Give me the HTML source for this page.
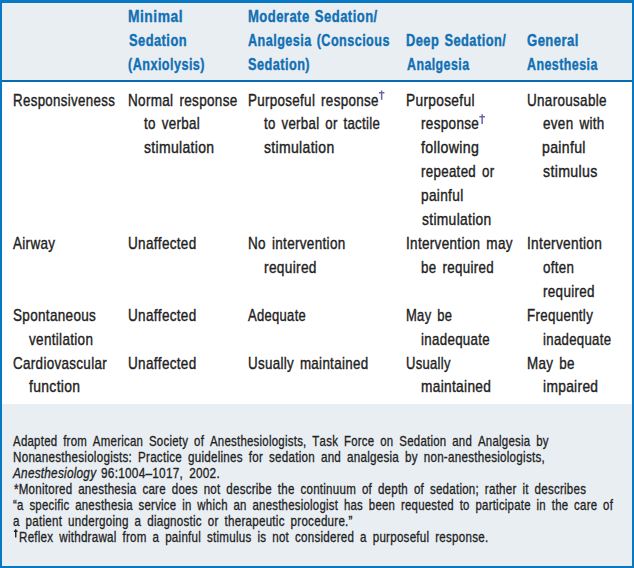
<!DOCTYPE html>
<html><head><meta charset="utf-8"><style>
html,body{margin:0;padding:0;background:#fff;}
body{width:634px;height:568px;position:relative;overflow:hidden;font-family:"Liberation Sans",sans-serif;font-kerning:none;}
.frame{position:absolute;left:0;top:0;width:630px;height:563px;border:2px solid #0678c4;border-top-width:3px;}
.hd{position:absolute;left:2px;top:3px;width:630px;height:77px;background:#e9eef3;}
.hl{position:absolute;left:2px;top:80px;width:630px;height:2px;background:#0a6cb0;}
.ft{position:absolute;left:2px;top:404px;width:630px;height:162px;background:#e9eef3;}
svg.dg{position:absolute;}
div.h,div.t,div.f{position:absolute;white-space:nowrap;transform-origin:0 0;line-height:24px;height:24px;}
.h{letter-spacing:0.6px;word-spacing:1.5px;font-weight:bold;font-size:17px;color:#1170b4;-webkit-text-stroke:0.4px #1170b4;}
.t{letter-spacing:0.4px;word-spacing:2.4px;font-size:17px;color:#222222;-webkit-text-stroke:0.4px #222222;}
.f{letter-spacing:0.3px;word-spacing:3.0px;font-size:14.3px;color:#222222;-webkit-text-stroke:0.3px #222222;}
</style></head><body>
<div class="hd"></div><div class="hl"></div><div class="ft"></div><div class="frame"></div>
<div class="h" style="left:127.97px;top:5.00px;transform:scaleX(0.8149)">Minimal</div>
<div class="h" style="left:128.53px;top:29.00px;transform:scaleX(0.7576)">Sedation</div>
<div class="h" style="left:128.27px;top:53.00px;transform:scaleX(0.7436)">(Anxiolysis)</div>
<div class="h" style="left:247.93px;top:5.00px;transform:scaleX(0.7668)">Moderate Sedation/</div>
<div class="h" style="left:247.99px;top:29.00px;transform:scaleX(0.7424)">Analgesia (Conscious</div>
<div class="h" style="left:248.43px;top:53.00px;transform:scaleX(0.7490)">Sedation)</div>
<div class="h" style="left:406.04px;top:29.00px;transform:scaleX(0.7561)">Deep Sedation/</div>
<div class="h" style="left:406.59px;top:53.00px;transform:scaleX(0.7288)">Analgesia</div>
<div class="h" style="left:527.16px;top:29.00px;transform:scaleX(0.7691)">General</div>
<div class="h" style="left:527.39px;top:53.00px;transform:scaleX(0.7318)">Anesthesia</div>
<div class="t" style="left:13.06px;top:89.00px;transform:scaleX(0.7836)">Responsiveness</div>
<div class="t" style="left:127.99px;top:89.00px;transform:scaleX(0.7946)">Normal response</div>
<div class="t" style="left:144.10px;top:112.00px;transform:scaleX(0.7867)">to verbal</div>
<div class="t" style="left:143.91px;top:136.00px;transform:scaleX(0.8222)">stimulation</div>
<div class="t" style="left:247.70px;top:89.00px;transform:scaleX(0.7877)">Purposeful response</div>
<div class="t" style="left:264.30px;top:112.00px;transform:scaleX(0.7779)">to verbal or tactile</div>
<div class="t" style="left:264.11px;top:136.00px;transform:scaleX(0.8234)">stimulation</div>
<div class="t" style="left:405.68px;top:89.00px;transform:scaleX(0.8064)">Purposeful</div>
<div class="t" style="left:421.10px;top:112.00px;transform:scaleX(0.7946)">response</div>
<div class="t" style="left:421.30px;top:136.00px;transform:scaleX(0.8337)">following</div>
<div class="t" style="left:421.12px;top:160.00px;transform:scaleX(0.7831)">repeated or</div>
<div class="t" style="left:421.12px;top:184.00px;transform:scaleX(0.8038)">painful</div>
<div class="t" style="left:421.62px;top:208.00px;transform:scaleX(0.8126)">stimulation</div>
<div class="t" style="left:526.76px;top:89.00px;transform:scaleX(0.7922)">Unarousable</div>
<div class="t" style="left:542.83px;top:112.00px;transform:scaleX(0.7911)">even with</div>
<div class="t" style="left:542.49px;top:136.00px;transform:scaleX(0.8277)">painful</div>
<div class="t" style="left:543.00px;top:160.00px;transform:scaleX(0.8352)">stimulus</div>
<div class="t" style="left:13.07px;top:232.00px;transform:scaleX(0.7914)">Airway</div>
<div class="t" style="left:127.66px;top:232.00px;transform:scaleX(0.7948)">Unaffected</div>
<div class="t" style="left:247.59px;top:232.00px;transform:scaleX(0.7952)">No intervention</div>
<div class="t" style="left:263.69px;top:256.00px;transform:scaleX(0.8054)">required</div>
<div class="t" style="left:406.15px;top:232.00px;transform:scaleX(0.7941)">Intervention may</div>
<div class="t" style="left:421.24px;top:256.00px;transform:scaleX(0.7859)">be required</div>
<div class="t" style="left:527.24px;top:232.00px;transform:scaleX(0.8028)">Intervention</div>
<div class="t" style="left:543.44px;top:256.00px;transform:scaleX(0.7847)">often</div>
<div class="t" style="left:543.11px;top:280.00px;transform:scaleX(0.7911)">required</div>
<div class="t" style="left:12.89px;top:304.00px;transform:scaleX(0.7947)">Spontaneous</div>
<div class="t" style="left:29.45px;top:328.00px;transform:scaleX(0.7936)">ventilation</div>
<div class="t" style="left:127.66px;top:304.00px;transform:scaleX(0.7948)">Unaffected</div>
<div class="t" style="left:248.37px;top:304.00px;transform:scaleX(0.7647)">Adequate</div>
<div class="t" style="left:406.13px;top:304.00px;transform:scaleX(0.7638)">May be</div>
<div class="t" style="left:420.91px;top:328.00px;transform:scaleX(0.7828)">inadequate</div>
<div class="t" style="left:526.91px;top:304.00px;transform:scaleX(0.7843)">Frequently</div>
<div class="t" style="left:542.82px;top:328.00px;transform:scaleX(0.7758)">inadequate</div>
<div class="t" style="left:12.82px;top:352.00px;transform:scaleX(0.7902)">Cardiovascular</div>
<div class="t" style="left:29.30px;top:375.00px;transform:scaleX(0.8197)">function</div>
<div class="t" style="left:127.66px;top:352.00px;transform:scaleX(0.7948)">Unaffected</div>
<div class="t" style="left:247.77px;top:352.00px;transform:scaleX(0.7858)">Usually maintained</div>
<div class="t" style="left:406.20px;top:352.00px;transform:scaleX(0.7659)">Usually</div>
<div class="t" style="left:420.89px;top:375.00px;transform:scaleX(0.8055)">maintained</div>
<div class="t" style="left:526.90px;top:352.00px;transform:scaleX(0.7897)">May be</div>
<div class="t" style="left:542.78px;top:375.00px;transform:scaleX(0.8090)">impaired</div>
<div class="f" style="left:13.28px;top:429.00px;transform:scaleX(0.8010)">Adapted from American Society of Anesthesiologists, Task Force on Sedation and Analgesia by</div>
<div class="f" style="left:13.24px;top:445.00px;transform:scaleX(0.8146)">Nonanesthesiologists: Practice guidelines for sedation and analgesia by non-anesthesiologists,</div>
<div class="f" style="left:12.88px;top:461.00px;transform:scaleX(0.8230);font-style:italic">Anesthesiology</div>
<div class="f" style="left:101.15px;top:461.00px;transform:scaleX(0.8269)">96:1004–1017, 2002.</div>
<div class="f" style="left:13.96px;top:477.00px;transform:scaleX(0.8084)">*Monitored anesthesia care does not describe the continuum of depth of sedation; rather it describes</div>
<div class="f" style="left:13.28px;top:493.00px;transform:scaleX(0.7980)">“a specific anesthesia service in which an anesthesiologist has been requested to participate in the care of</div>
<div class="f" style="left:12.71px;top:509.00px;transform:scaleX(0.8124)">a patient undergoing a diagnostic or therapeutic procedure.”</div>
<div class="f" style="left:19.30px;top:525.00px;transform:scaleX(0.8120)">Reflex withdrawal from a painful stimulus is not considered a purposeful response.</div>
<svg class="dg" style="left:377px;top:89px" width="9" height="12"><path d="M3.90 1.50H5.40V10.70H3.90Z M1.90 3.00H7.40V4.60H1.90Z" fill="#6b64ad"/></svg>
<svg class="dg" style="left:478px;top:113px" width="9" height="13"><path d="M3.40 1.30H4.90V11.00H3.40Z M1.30 2.90H7.00V4.50H1.30Z" fill="#6b64ad"/></svg>
<svg class="dg" style="left:12px;top:528px" width="7" height="11"><path d="M3.05 1.30H4.45V9.60H3.05Z M1.90 2.60H5.60V3.90H1.90Z" fill="#222222"/></svg>
</body></html>
